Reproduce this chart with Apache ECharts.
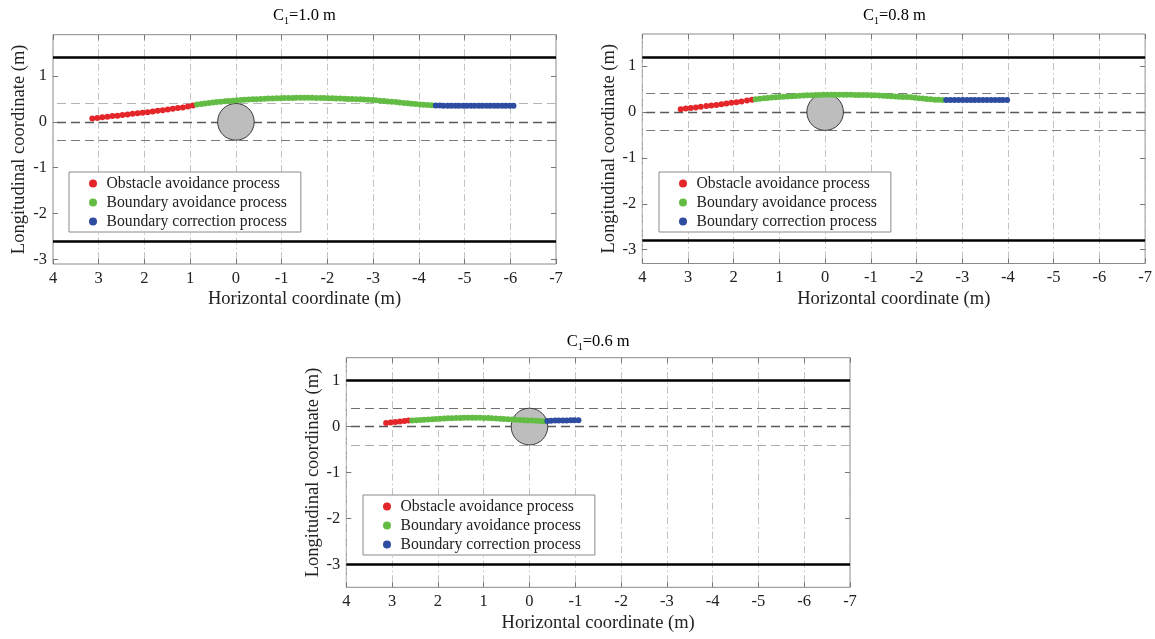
<!DOCTYPE html>
<html>
<head>
<meta charset="utf-8">
<script src="https://cdn.jsdelivr.net/npm/echarts@6/dist/echarts.min.js"></script>
<style>html,body{margin:0;padding:0;background:#fff;}#c{width:1155px;height:639px;}</style>
</head>
<body>
<div id="c"></div>
<script>
// ---------- data ----------
const panelTitles = ['1.0 m', '0.8 m', '0.6 m'];
const seriesNames = ['Obstacle avoidance process', 'Boundary avoidance process', 'Boundary correction process'];
const xTicks = [4, 3, 2, 1, 0, -1, -2, -3, -4, -5, -6, -7];
const yTicks = [1, 0, -1, -2, -3];
const yRanges = [[-3.1, 1.9], [-3.3, 1.7], [-3.5, 1.5]];
const laneBoundaries = [[1.4, -2.6], [1.2, -2.8], [1.0, -3.0]];
const guideLines = [0.4, 0, -0.4];
const obstacle = [0, 0, 0.4]; // centre x, centre y, radius (m)

// panel 1 (C1 = 1.0 m)
const p1Obstacle = [[3.14,0.07],[3.03,0.085],[2.92,0.10],[2.81,0.11],[2.70,0.125],[2.59,0.135],[2.48,0.15],[2.37,0.16],[2.26,0.175],[2.15,0.185],[2.04,0.20],[1.93,0.21],[1.82,0.225],[1.71,0.24],[1.60,0.255],[1.49,0.27],[1.38,0.285],[1.27,0.30],[1.16,0.315],[1.05,0.335],[0.94,0.355]];
const p1Boundary = [[0.85,0.38],[0.76,0.39],[0.68,0.40],[0.59,0.41],[0.50,0.42],[0.42,0.43],[0.33,0.44],[0.24,0.45],[0.16,0.455],[0.07,0.46],[-0.02,0.47],[-0.11,0.475],[-0.19,0.48],[-0.28,0.485],[-0.37,0.49],[-0.45,0.495],[-0.54,0.50],[-0.63,0.505],[-0.71,0.51],[-0.80,0.51],[-0.89,0.515],[-0.98,0.515],[-1.06,0.52],[-1.15,0.52],[-1.24,0.52],[-1.32,0.525],[-1.41,0.525],[-1.50,0.525],[-1.58,0.525],[-1.67,0.525],[-1.76,0.52],[-1.85,0.52],[-1.93,0.52],[-2.02,0.515],[-2.11,0.515],[-2.19,0.51],[-2.28,0.51],[-2.37,0.505],[-2.45,0.50],[-2.54,0.50],[-2.63,0.495],[-2.72,0.49],[-2.80,0.485],[-2.89,0.48],[-2.98,0.475],[-3.06,0.47],[-3.15,0.46],[-3.24,0.455],[-3.32,0.445],[-3.41,0.44],[-3.50,0.43],[-3.58,0.42],[-3.67,0.41],[-3.76,0.405],[-3.84,0.395],[-3.93,0.39],[-4.02,0.38],[-4.10,0.375],[-4.19,0.365],[-4.28,0.36]];
const p1Correction = [[-4.37,0.355],[-4.46,0.355],[-4.54,0.35],[-4.63,0.35],[-4.71,0.35],[-4.80,0.35],[-4.88,0.35],[-4.97,0.35],[-5.05,0.35],[-5.14,0.35],[-5.22,0.35],[-5.31,0.35],[-5.39,0.35],[-5.48,0.35],[-5.56,0.35],[-5.65,0.35],[-5.73,0.35],[-5.82,0.35],[-5.90,0.35],[-5.99,0.35],[-6.07,0.35]];

// panel 2 (C1 = 0.8 m)
const p2Obstacle = [[3.16,0.06],[3.05,0.075],[2.94,0.09],[2.83,0.10],[2.72,0.115],[2.60,0.13],[2.49,0.14],[2.38,0.155],[2.27,0.17],[2.16,0.185],[2.05,0.20],[1.94,0.215],[1.83,0.23],[1.71,0.25],[1.60,0.27]];
const p2Boundary = [[1.52,0.28],[1.43,0.29],[1.34,0.30],[1.26,0.305],[1.17,0.315],[1.08,0.32],[1.00,0.33],[0.91,0.335],[0.82,0.34],[0.73,0.345],[0.65,0.35],[0.56,0.355],[0.47,0.36],[0.39,0.365],[0.30,0.365],[0.21,0.37],[0.13,0.37],[0.04,0.375],[-0.05,0.375],[-0.14,0.375],[-0.22,0.375],[-0.31,0.375],[-0.40,0.375],[-0.48,0.375],[-0.57,0.375],[-0.66,0.37],[-0.74,0.37],[-0.83,0.37],[-0.92,0.37],[-1.01,0.365],[-1.09,0.365],[-1.18,0.36],[-1.27,0.355],[-1.35,0.35],[-1.44,0.345],[-1.53,0.34],[-1.61,0.335],[-1.70,0.33],[-1.79,0.325],[-1.88,0.32],[-1.96,0.31],[-2.05,0.30],[-2.14,0.295],[-2.22,0.285],[-2.31,0.28],[-2.40,0.27],[-2.48,0.265],[-2.57,0.26]];
const p2Correction = [[-2.65,0.26],[-2.74,0.26],[-2.83,0.26],[-2.92,0.26],[-3.01,0.26],[-3.10,0.26],[-3.19,0.26],[-3.27,0.26],[-3.36,0.26],[-3.45,0.26],[-3.54,0.26],[-3.63,0.26],[-3.72,0.26],[-3.81,0.26],[-3.89,0.26],[-3.98,0.26]];

// panel 3 (C1 = 0.6 m)
const p3Obstacle = [[3.13,0.08],[3.03,0.09],[2.93,0.10],[2.83,0.11],[2.73,0.12],[2.64,0.13]];
const p3Boundary = [[2.56,0.135],[2.47,0.14],[2.38,0.145],[2.30,0.15],[2.21,0.155],[2.12,0.16],[2.04,0.165],[1.95,0.17],[1.86,0.175],[1.78,0.18],[1.69,0.18],[1.60,0.185],[1.51,0.185],[1.43,0.19],[1.34,0.19],[1.25,0.19],[1.17,0.19],[1.08,0.19],[0.99,0.185],[0.90,0.185],[0.82,0.18],[0.73,0.175],[0.64,0.17],[0.56,0.165],[0.47,0.16],[0.38,0.155],[0.30,0.15],[0.21,0.145],[0.12,0.14],[0.04,0.135],[-0.05,0.13],[-0.14,0.125],[-0.22,0.12],[-0.31,0.115]];
const p3Correction = [[-0.39,0.12],[-0.47,0.125],[-0.56,0.13],[-0.64,0.13],[-0.73,0.135],[-0.81,0.135],[-0.90,0.14],[-0.98,0.14],[-1.07,0.14]];

const trajectories = [
  [p1Obstacle, p1Boundary, p1Correction],
  [p2Obstacle, p2Boundary, p2Correction],
  [p3Obstacle, p3Boundary, p3Correction]
];

// ---------- styling / layout ----------
const FONT = 'Liberation Serif';
const TXT = '#222';
const colors = ['#e4262a', '#63bd45', '#2e4ca0'];
const grids = [
  {left: 53, top: 34.7, width: 503, height: 229.3},
  {left: 642.3, top: 34, width: 504.4, height: 229.5},
  {left: 346.3, top: 357.7, width: 503.7, height: 229.6}
];
const legendPos = [{left: 69, top: 172}, {left: 659, top: 172}, {left: 363, top: 495}];
const guideStyles = [
  [{color:'#b4b4b4', width:1.2}, {color:'#5a5a5a', width:1.4}, {color:'#7a7a7a', width:1.2}],
  [{color:'#7a7a7a', width:1.2}, {color:'#5a5a5a', width:1.4}, {color:'#7a7a7a', width:1.2}],
  [{color:'#707070', width:1.2}, {color:'#5a5a5a', width:1.4}, {color:'#ababab', width:1.2}]
];

const option = {
  animation: false,
  backgroundColor: '#fff',
  grid: [], xAxis: [], yAxis: [], series: [], legend: [], graphic: []
};

const tickStyle = {show: true, inside: true, length: 5, lineStyle: {color: '#777'}};

grids.forEach((g, i) => {
  option.grid.push(Object.assign({show: true, borderColor: '#8a8a8a', borderWidth: 1, backgroundColor: '#fff', containLabel: false}, g));
  const xr = [Math.min(...xTicks), Math.max(...xTicks)];
  // bottom x axis
  option.xAxis.push({
    type: 'value', gridIndex: i, min: xr[0], max: xr[1], interval: 1, inverse: true, position: 'bottom',
    axisLine: {show: false, onZero: false},
    axisTick: tickStyle,
    axisLabel: {color: TXT, fontFamily: FONT, fontSize: 16.5, margin: 6},
    splitLine: {show: true, lineStyle: {color: '#c2c2c2', width: 1, type: [7, 3, 1.5, 3]}},
    name: 'Horizontal coordinate (m)', nameLocation: 'middle', nameGap: 26,
    nameTextStyle: {color: TXT, fontFamily: FONT, fontSize: 18.5}
  });
  // top x axis (ticks only)
  option.xAxis.push({
    type: 'value', gridIndex: i, min: xr[0], max: xr[1], interval: 1, inverse: true, position: 'top',
    axisLine: {show: false, onZero: false}, axisLabel: {show: false}, splitLine: {show: false},
    axisTick: tickStyle
  });
  // left y axis
  option.yAxis.push({
    type: 'value', gridIndex: i, min: yRanges[i][0], max: yRanges[i][1], position: 'left',
    axisLine: {show: false, onZero: false},
    axisTick: Object.assign({customValues: yTicks}, tickStyle),
    axisLabel: {color: TXT, fontFamily: FONT, fontSize: 16.5, margin: 6, customValues: yTicks},
    splitLine: {show: false},
    name: 'Longitudinal coordinate (m)', nameLocation: 'middle', nameGap: 24,
    nameTextStyle: {color: TXT, fontFamily: FONT, fontSize: 18.5}
  });
  // right y axis (ticks only)
  option.yAxis.push({
    type: 'value', gridIndex: i, min: yRanges[i][0], max: yRanges[i][1], position: 'right',
    axisLine: {show: false, onZero: false}, axisLabel: {show: false}, splitLine: {show: false},
    axisTick: Object.assign({customValues: yTicks}, tickStyle)
  });

  const xi = 2 * i, yi = 2 * i;
  // lane boundaries and guide lines
  const mlData = [];
  laneBoundaries[i].forEach(b => mlData.push({yAxis: b, lineStyle: {color: '#000', width: 2.6, type: 'solid'}}));
  guideLines.forEach((v, k) => mlData.push({yAxis: v, lineStyle: Object.assign({type: [9, 5]}, guideStyles[i][k])}));
  option.series.push({
    type: 'line', name: 'lanes' + i, xAxisIndex: xi, yAxisIndex: yi, data: [], z: 1, silent: true,
    markLine: {silent: true, z: 1, symbol: ['none', 'none'], label: {show: false}, data: mlData, animation: false}
  });
  // obstacle circle
  option.series.push({
    type: 'custom', name: 'obstacle' + i, xAxisIndex: xi, yAxisIndex: yi, z: 4, silent: true,
    data: [obstacle],
    renderItem: (params, api) => {
      const c = api.coord([api.value(0), api.value(1)]);
      const s = api.size([api.value(2), api.value(2)]);
      return {type: 'ellipse', shape: {cx: c[0], cy: c[1], rx: Math.abs(s[0]), ry: Math.abs(s[1])},
        style: {fill: '#bdbdbd', stroke: '#3a3a3a', lineWidth: 1, opacity: 1}};
    }
  });
  // trajectories
  trajectories[i].forEach((pts, k) => {
    option.series.push({
      type: 'scatter', name: seriesNames[k], xAxisIndex: xi, yAxisIndex: yi, z: 6,
      data: pts, symbol: 'circle', symbolSize: 6,
      itemStyle: {color: colors[k], opacity: 1}
    });
  });
  option.legend.push({
    orient: 'vertical', left: legendPos[i].left, top: legendPos[i].top, z: 10,
    data: seriesNames.map(n => ({name: n, icon: 'circle'})),
    itemWidth: 17, itemHeight: 8, itemGap: 0,
    padding: [2, 14, 1, 20],
    backgroundColor: '#fff', borderColor: '#8a8a8a', borderWidth: 1, borderRadius: 0,
    selectedMode: false,
    textStyle: {color: TXT, fontFamily: FONT, fontSize: 15.7, lineHeight: 19}
  });
  // title
  option.graphic.push({
    type: 'text', x: g.left + g.width / 2, y: i < 2 ? 14 : 340,
    style: {
      text: '{c|C}{s|1}{c|=' + panelTitles[i] + '}',
      textAlign: 'center', textVerticalAlign: 'middle',
      rich: {
        c: {fontFamily: FONT, fontSize: 16.5, color: TXT, lineHeight: 20, verticalAlign: 'bottom'},
        s: {fontFamily: FONT, fontSize: 10, color: TXT, lineHeight: 10, verticalAlign: 'bottom', padding: [0, 0, -2, 0]}
      }
    }
  });
});

const chart = echarts.init(document.getElementById('c'), null, {renderer: 'canvas'});
chart.setOption(option);
</script>
</body>
</html>
